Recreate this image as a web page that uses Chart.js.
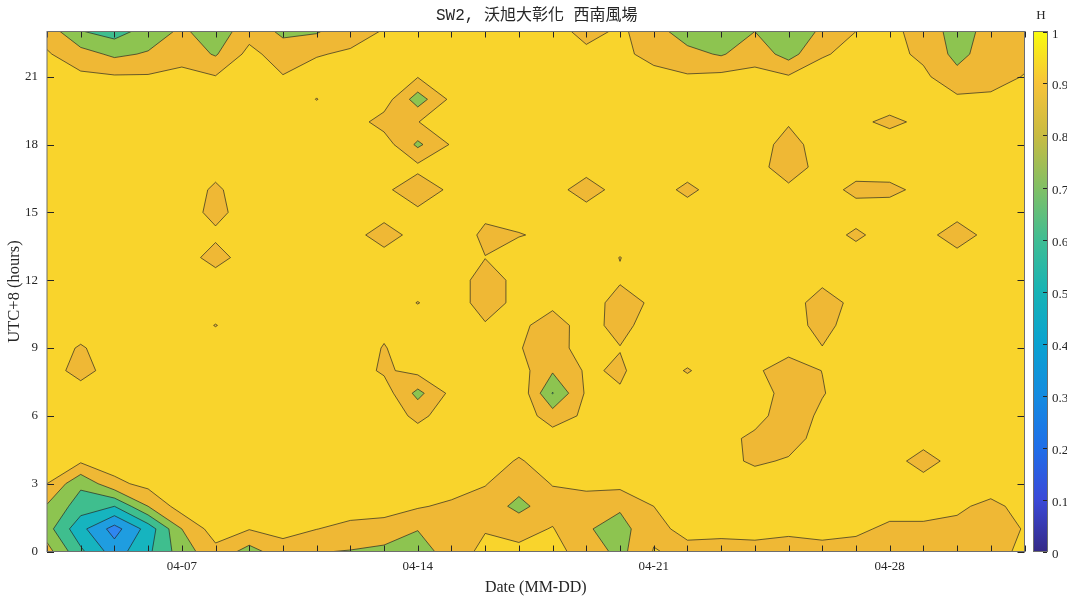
<!DOCTYPE html>
<html>
<head>
<meta charset="utf-8">
<script src="https://cdn.jsdelivr.net/npm/chart.js@4.4.1/dist/chart.umd.min.js"></script>
<style>
  html, body { margin: 0; padding: 0; background: #fff; }
</style>
</head>
<body>
<canvas id="contourChart" width="1067" height="601"></canvas>
<script>
// days on the x axis (grid columns) and the hours on the y axis (grid rows)
const dateLabels = ['04-03','04-04','04-05','04-06','04-07','04-08','04-09','04-10','04-11','04-12',
  '04-13','04-14','04-15','04-16','04-17','04-18','04-19','04-20','04-21','04-22',
  '04-23','04-24','04-25','04-26','04-27','04-28','04-29','04-30','05-01','05-02'];
const dateTicks = ['04-07', '04-14', '04-21', '04-28'];
const hourTicks = [0, 3, 6, 9, 12, 15, 18, 21];
const levels = [0.1, 0.2, 0.3, 0.4, 0.5, 0.6, 0.7, 0.8, 0.9];
const colorbarTicks = [0, 0.1, 0.2, 0.3, 0.4, 0.5, 0.6, 0.7, 0.8, 0.9, 1];
const chartTitle = 'SW2, 沃旭大彰化 西南風場';

// H values, one array per hour (UTC+8), one value per day
const h00 = [.84,.62,.45,.58,.75,.87,.76,.86,.805,.795, .78,.74,.86,.92,.92,.93,.86,.77,.905,.88, .86,.87,.86,.87,.86,.85,.85,.85,.85,.93];
const h01 = [.74,.53,.36,.54,.80,.95,.905,.93,.902,.87, .85,.805,.85,.895,.87,.905,.81,.76,.88,.92, .93,.93,.92,.93,.92,.88,.88,.885,.86,.905];
const h02 = [.79,.65,.60,.80,.95,.95,.95,.95,.95,.95, .95,.91,.88,.86,.77,.86,.86,.815,.90,.95, .95,.95,.95,.95,.95,.94,.94,.91,.885,.92];
const h03 = [.90,.72,.875,.93,.95,.95,.95,.95,.95,.95, .95,.95,.95,.905,.84,.905,.92,.93,.95,.95, .95,.95,.95,.95,.95,.95,.95,.95,.93,.95];
const h04 = [.93,.915,.95,.95,.95,.95,.95,.95,.95,.95, .95,.95,.95,.95,.89,.95,.95,.95,.95,.95, .93,.885,.91,.95,.95,.95,.85,.95,.95,.95];
const h05 = [.95,.95,.95,.95,.95,.95,.95,.95,.95,.95, .95,.95,.95,.95,.95,.95,.95,.95,.95,.95, .93,.88,.86,.937,.95,.95,.95,.95,.95,.95];
const h06 = [.95,.95,.95,.95,.95,.95,.95,.95,.95,.95, .96,.875,.95,.95,.959,.85,.919,.95,.95,.95, .95,.933,.85,.917,.95,.95,.95,.95,.95,.95];
const h07 = [.95,.95,.95,.95,.95,.95,.95,.95,.95,.95, .95,.77,.927,.95,.98,.695,.915,.908,.95,.95, .95,.966,.85,.895,.945,.95,.95,.95,.95,.95];
const h08 = [.95,.86,.95,.95,.95,.95,.95,.95,.95,.95, .885,.93,.95,.95,.943,.812,.913,.888,.95,.893, .95,.91,.87,.901,.95,.95,.95,.95,.95,.95];
const h09 = [.95,.89,.95,.95,.95,.95,.95,.95,.95,.95, .895,.95,.95,.95,.906,.85,.952,.903,.95,.95, .95,.95,.92,.903,.95,.95,.95,.95,.95,.95];
const h10 = [.95,.95,.95,.95,.95,.897,.95,.95,.95,.95, .92,.95,.95,.908,.915,.87,.93,.873,.94,.95, .95,.95,.94,.87,.945,.95,.95,.95,.95,.95];
const h11 = [.95,.95,.95,.95,.95,.95,.95,.95,.95,.95, .95,.897,.95,.86,.925,.916,.95,.86,.916,.95, .95,.95,.95,.85,.93,.95,.95,.95,.95,.95];
const h12 = [.95,.95,.95,.95,.95,.95,.95,.95,.95,.95, .95,.95,.95,.86,.925,.95,.95,.91,.95,.95, .95,.95,.95,.925,.95,.95,.95,.95,.95,.95];
const h13 = [.95,.95,.95,.95,.95,.86,.95,.95,.95,.95, .95,.95,.95,.902,.95,.95,.95,.898,.95,.95, .95,.95,.95,.95,.95,.95,.95,.95,.95,.95];
const h14 = [.95,.95,.95,.95,.95,.92,.95,.95,.95,.95, .84,.95,.96,.88,.895,.92,.95,.95,.95,.95, .95,.95,.95,.95,.88,.95,.95,.83,.95,.95];
const h15 = [.95,.95,.95,.95,.95,.87,.95,.95,.95,.95, .95,.92,.95,.92,.94,.95,.95,.95,.95,.95, .95,.95,.95,.95,.95,.95,.95,.95,.95,.95];
const h16 = [.95,.95,.95,.95,.95,.885,.95,.95,.95,.95, .92,.84,.92,.95,.95,.95,.84,.95,.95,.875, .95,.95,.93,.95,.87,.875,.928,.95,.95,.95];
const h17 = [.95,.95,.95,.95,.95,.93,.95,.95,.95,.95, .95,.925,.95,.95,.95,.95,.95,.95,.95,.95, .95,.95,.83,.95,.95,.95,.95,.95,.95,.95];
const h18 = [.95,.95,.95,.95,.95,.95,.95,.95,.95,.95, .95,.78,.91,.95,.95,.95,.95,.95,.95,.95, .95,.95,.86,.95,.95,.97,.95,.95,.95,.95];
const h19 = [.95,.95,.95,.95,.95,.95,.95,.95,.95,.95, .86,.898,.95,.95,.95,.95,.95,.95,.95,.95, .95,.95,.91,.95,.93,.87,.93,.95,.95,.95];
const h20 = [.95,.95,.95,.95,.95,.95,.95,.95,.898,.95, .95,.75,.924,.95,.95,.95,.95,.95,.95,.95, .95,.95,.95,.95,.95,.97,.95,.92,.92,.95];
const h21 = [.93,.92,.91,.91,.93,.905,.95,.905,.93,.95, .95,.905,.95,.95,.95,.95,.95,.95,.94,.91, .925,.93,.91,.95,.95,.95,.92,.83,.86,.905];
const h22 = [.91,.84,.78,.81,.86,.79,.93,.85,.895,.91, .93,.95,.95,.95,.95,.95,.93,.93,.86,.83, .79,.86,.76,.89,.93,.93,.88,.77,.85,.87];
const h23 = [.86,.705,.66,.74,.82,.74,.86,.78,.79,.87, .905,.95,.95,.95,.95,.95,.86,.92,.84,.75, .72,.80,.72,.82,.90,.92,.87,.75,.84,.86];

const hGrid = [h00,h01,h02,h03,h04,h05,h06,h07,h08,h09,h10,h11,h12,h13,h14,h15,h16,h17,h18,h19,h20,h21,h22,h23];

// fill colour of each band between levels (0-0.1, 0.1-0.2, ... 0.9-1)
const bandColors = ['#3e2a9a','#4050e0','#3070f5','#2f86f0','#1f9de0','#16b4bf','#3fbe8e','#8dc450','#efb835','#f9d42c'];
const parulaStops = [[0,'#352a87'],[0.1,'#3a49d8'],[0.2,'#1f6ee8'],[0.3,'#148be0'],[0.4,'#0aa2d0'],
  [0.5,'#17b3b5'],[0.6,'#40bd93'],[0.7,'#82c065'],[0.8,'#c8bb42'],[0.9,'#f7c33a'],[1,'#f9fb0e']];

const axisColor = '#262626';
const serif = "'Liberation Serif', 'Times New Roman', serif";

const points = [];
hGrid.forEach((row, hour) => row.forEach((v, day) => points.push({x: day, y: hour, v: v})));

// polygons of the part of one grid cell where the value is >= level (marching squares)
function cellPolygons(i, j, level) {
  const corners = [[i, j], [i + 1, j], [i + 1, j + 1], [i, j + 1]];
  const vals = corners.map(c => hGrid[c[1]][c[0]]);
  const high = vals.map(v => v >= level);
  const cross = (k, n) => {
    const t = (level - vals[k]) / (vals[n] - vals[k]);
    return {
      x: corners[k][0] + t * (corners[n][0] - corners[k][0]),
      y: corners[k][1] + t * (corners[n][1] - corners[k][1]),
      cross: true
    };
  };
  const saddle = high[0] === high[2] && high[1] === high[3] && high[0] !== high[1];
  const mean = (vals[0] + vals[1] + vals[2] + vals[3]) / 4;
  if (saddle && mean < level) {
    // the two high corners stay apart
    const polys = [];
    for (let k = 0; k < 4; k++) {
      if (!high[k]) continue;
      const p = (k + 3) % 4, n = (k + 1) % 4;
      polys.push([cross(p, k), {x: corners[k][0], y: corners[k][1], cross: false}, cross(k, n)]);
    }
    return polys;
  }
  const poly = [];
  for (let k = 0; k < 4; k++) {
    const n = (k + 1) % 4;
    if (high[k]) poly.push({x: corners[k][0], y: corners[k][1], cross: false});
    if (high[k] !== high[n]) poly.push(cross(k, n));
  }
  return poly.length >= 3 ? [poly] : [];
}

const contourPlugin = {
  id: 'contourPlugin',
  beforeDatasetsDraw(chart) {
    const {ctx, chartArea} = chart;
    const xs = chart.scales.x, ys = chart.scales.y;
    const nCols = hGrid[0].length, nRows = hGrid.length;
    ctx.save();
    ctx.beginPath();
    ctx.rect(chartArea.left, chartArea.top, chartArea.width, chartArea.height);
    ctx.clip();
    ctx.fillStyle = bandColors[0];
    ctx.fillRect(chartArea.left, chartArea.top, chartArea.width, chartArea.height);

    const all = [];
    levels.forEach((level, k) => {
      ctx.beginPath();
      for (let j = 0; j < nRows - 1; j++) {
        for (let i = 0; i < nCols - 1; i++) {
          cellPolygons(i, j, level).forEach(poly => {
            all.push(poly);
            poly.forEach((p, n) => {
              const X = xs.getPixelForValue(p.x), Y = ys.getPixelForValue(p.y);
              if (n === 0) ctx.moveTo(X, Y); else ctx.lineTo(X, Y);
            });
            ctx.closePath();
          });
        }
      }
      ctx.fillStyle = bandColors[k + 1];
      ctx.fill();
    });

    // contour lines
    ctx.strokeStyle = 'rgba(35,35,35,0.85)';
    ctx.lineWidth = 0.8;
    ctx.lineJoin = 'round';
    ctx.beginPath();
    all.forEach(poly => {
      for (let n = 0; n < poly.length; n++) {
        const p = poly[n], q = poly[(n + 1) % poly.length];
        if (p.cross && q.cross) {
          ctx.moveTo(xs.getPixelForValue(p.x), ys.getPixelForValue(p.y));
          ctx.lineTo(xs.getPixelForValue(q.x), ys.getPixelForValue(q.y));
        }
      }
    });
    ctx.stroke();
    ctx.restore();
  },
  afterDatasetsDraw(chart) {
    const {ctx, chartArea} = chart;
    const xs = chart.scales.x, ys = chart.scales.y;
    ctx.save();
    ctx.strokeStyle = axisColor;
    ctx.lineWidth = 1;
    ctx.beginPath();
    dateLabels.forEach((d, i) => {
      const X = Math.round(xs.getPixelForValue(i)) + 0.5;
      ctx.moveTo(X, chartArea.bottom); ctx.lineTo(X, chartArea.bottom - 6);
      ctx.moveTo(X, chartArea.top); ctx.lineTo(X, chartArea.top + 6);
    });
    hourTicks.forEach(h => {
      const Y = Math.round(ys.getPixelForValue(h)) + 0.5;
      ctx.moveTo(chartArea.left, Y); ctx.lineTo(chartArea.left + 7, Y);
      ctx.moveTo(chartArea.right, Y); ctx.lineTo(chartArea.right - 7, Y);
    });
    ctx.stroke();
    ctx.strokeStyle = '#6e6e6e';
    ctx.strokeRect(chartArea.left, chartArea.top, chartArea.width, chartArea.height);

    // title, centred over the plot box
    ctx.fillStyle = axisColor;
    ctx.font = "16px 'Liberation Mono', 'Noto Sans CJK TC', monospace";
    ctx.textAlign = 'center';
    ctx.textBaseline = 'middle';
    ctx.fillText(chartTitle, (chartArea.left + chartArea.right) / 2 + 1, 16);
    ctx.restore();
  },
  afterDraw(chart) {
    const {ctx} = chart;
    const cb = chart.scales.cb;
    const x0 = 1033, w = 14;
    const top = cb.getPixelForValue(1), bottom = cb.getPixelForValue(0);
    ctx.save();
    const grad = ctx.createLinearGradient(0, bottom, 0, top);
    parulaStops.forEach(s => grad.addColorStop(s[0], s[1]));
    ctx.fillStyle = grad;
    ctx.fillRect(x0, top, w, bottom - top);
    ctx.strokeStyle = '#6e6e6e';
    ctx.lineWidth = 1;
    ctx.strokeRect(x0 + 0.5, top, w, bottom - top);
    ctx.strokeStyle = axisColor;
    ctx.fillStyle = axisColor;
    ctx.font = '13px ' + serif;
    ctx.textAlign = 'left';
    ctx.textBaseline = 'middle';
    ctx.beginPath();
    colorbarTicks.forEach(v => {
      const Y = Math.round(cb.getPixelForValue(v)) + 0.5;
      ctx.moveTo(x0 + w, Y); ctx.lineTo(x0 + w - 4, Y);
      ctx.fillText(String(v), x0 + w + 5, Y + 2);
    });
    ctx.stroke();
    ctx.textAlign = 'center';
    ctx.fillText('H', x0 + w / 2 + 1, 16);
    ctx.restore();
  }
};

new Chart(document.getElementById('contourChart'), {
  type: 'scatter',
  data: { datasets: [{ data: points, pointRadius: 0, pointHoverRadius: 0 }] },
  options: {
    responsive: false,
    animation: false,
    devicePixelRatio: 1,
    layout: { padding: { left: 0, right: 42.5, top: 31.5, bottom: 0 } },
    plugins: {
      legend: { display: false },
      tooltip: { enabled: false },
      title: { display: false }
    },
    scales: {
      x: {
        type: 'linear',
        min: 0,
        max: dateLabels.length - 1,
        afterBuildTicks: scale => { scale.ticks = dateTicks.map(d => ({ value: dateLabels.indexOf(d) })); },
        afterFit: scale => { scale.height = 49.5; },
        ticks: {
          callback: v => dateLabels[v],
          color: axisColor,
          font: { family: serif, size: 13 },
          padding: 7,
          maxRotation: 0,
          autoSkip: false
        },
        grid: { display: false, drawTicks: false },
        border: { display: false },
        title: { display: true, text: 'Date (MM-DD)', color: axisColor, font: { family: serif, size: 16 }, padding: { bottom: 4 } }
      },
      y: {
        type: 'linear',
        min: 0,
        max: hGrid.length - 1,
        afterBuildTicks: scale => { scale.ticks = hourTicks.map(h => ({ value: h })); },
        afterFit: scale => { scale.width = 47; },
        ticks: { color: axisColor, font: { family: serif, size: 13 }, padding: 9 },
        grid: { display: false, drawTicks: false },
        border: { display: false },
        title: { display: true, text: 'UTC+8 (hours)', color: axisColor, font: { family: serif, size: 16.5 }, padding: { top: 5 } }
      },
      cb: { type: 'linear', position: 'right', min: 0, max: 1, display: false }
    }
  },
  plugins: [contourPlugin]
});
</script>
</body>
</html>
